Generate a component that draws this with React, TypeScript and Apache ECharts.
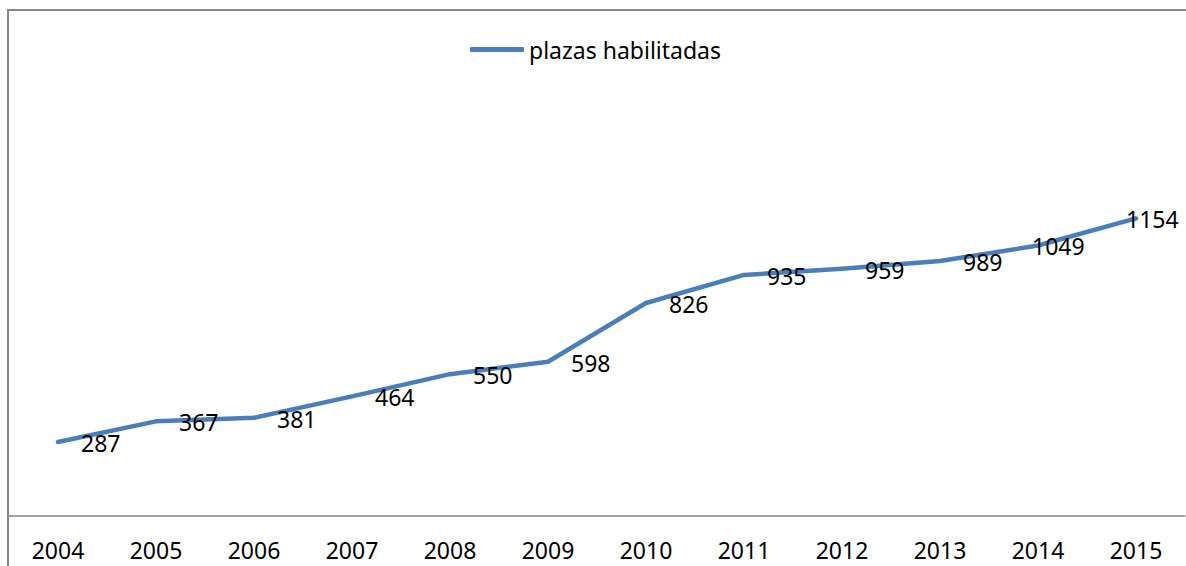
import React, { useEffect, useRef } from "react";
import * as echarts from "echarts";

const years = ["2004", "2005", "2006", "2007", "2008", "2009", "2010", "2011", "2012", "2013", "2014", "2015"];
const plazas = [287, 367, 381, 464, 550, 598, 826, 935, 959, 989, 1049, 1154];
const seriesName = "plazas habilitadas";

const FONT = "'Noto Sans', sans-serif";

export default function App() {
  const ref = useRef<HTMLDivElement>(null);
  useEffect(() => {
    if (!ref.current) return;
    const chart = echarts.init(ref.current, null, { renderer: "svg" });
    const n = plazas.length;
    const data = plazas.map((v, i) => {
      if (i === n - 2) return { value: v, label: { offset: [-29, 0] } };
      if (i === n - 1) return { value: v, label: { offset: [-33, 1] } };
      return v;
    });
    chart.setOption({
      animation: false,
      backgroundColor: "transparent",
      textStyle: { fontFamily: FONT },
      legend: {
        left: 465,
        top: 33,
        icon: "roundRect",
        itemWidth: 54,
        itemHeight: 5,
        itemGap: 5,
        textStyle: { fontFamily: FONT, fontSize: 23, color: "#000000" },
        data: [seriesName],
      },
      grid: { left: 9, right: 1, top: 155, bottom: 50, containLabel: false },
      xAxis: {
        type: "category",
        data: years,
        boundaryGap: true,
        axisLine: { show: true, lineStyle: { color: "#868686", width: 1.5 } },
        axisTick: { show: false },
        axisLabel: { fontFamily: FONT, fontSize: 23, color: "#000000", margin: 22 },
        splitLine: { show: false },
      },
      yAxis: {
        type: "value",
        min: 0,
        max: 1400,
        show: false,
        splitLine: { show: false },
      },
      series: [
        {
          name: seriesName,
          type: "line",
          data,
          symbol: "circle",
          symbolSize: 2,
          showSymbol: true,
          itemStyle: { color: "#4A7EBB" },
          lineStyle: { color: "#4A7EBB", width: 4.5, cap: "round", join: "round" },
          label: {
            show: true,
            position: "right",
            distance: 22,
            offset: [0, 1],
            fontFamily: FONT,
            fontSize: 23,
            color: "#000000",
          },
        },
      ],
    });
    return () => chart.dispose();
  }, []);
  return (
    <div
      style={{
        position: "fixed",
        left: 0,
        top: 0,
        width: 1186,
        height: 566,
        overflow: "hidden",
        background: "#ffffff",
      }}
    >
      <div
        style={{
          position: "absolute",
          left: 7,
          top: 9,
          width: 1179,
          height: 557,
          borderLeft: "2px solid #868686",
          borderTop: "2px solid #868686",
          boxSizing: "border-box",
        }}
      />
      <div
        ref={ref}
        style={{ position: "absolute", left: 0, top: 0, width: 1186, height: 566 }}
      />
    </div>
  );
}
